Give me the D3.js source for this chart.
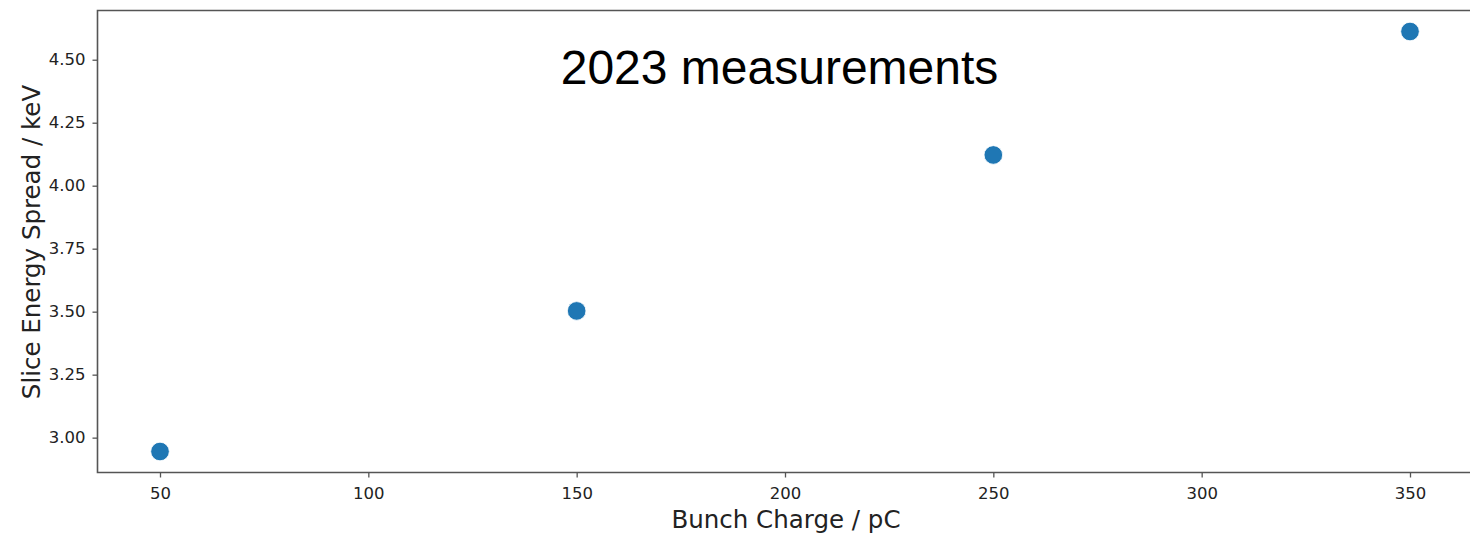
<!DOCTYPE html>
<html>
<head>
<meta charset="utf-8">
<script src="https://cdn.jsdelivr.net/npm/d3@7"></script>
<style>
  html, body { margin: 0; padding: 0; background: #fff; }
  svg { display: block; }
</style>
</head>
<body>
<svg id="chart" width="1470" height="534"></svg>
<script>
// Bunch charge (pC) and measured slice energy spread (keV)
const charges = [50, 150, 250, 350];
const spreads = [2.945, 3.503, 4.122, 4.612];
const xTicks = [50, 100, 150, 200, 250, 300, 350];
const yTicks = [3.00, 3.25, 3.50, 3.75, 4.00, 4.25, 4.50];
const titleText = "2023 measurements";
const xLabel = "Bunch Charge / pC";
const yLabel = "Slice Energy Spread / keV";

const svg = d3.select("#chart");
const plotLeft = 97.5, plotTop = 10.5, plotRight = 1472.5, plotBottom = 472.5;

// 5% padding around the data range on both axes
const xPad = (d3.max(charges) - d3.min(charges)) * 0.05;
const yPad = (d3.max(spreads) - d3.min(spreads)) * 0.05;
const x = d3.scaleLinear()
  .domain([d3.min(charges) - xPad, d3.max(charges) + xPad])
  .range([plotLeft, plotRight]);
const y = d3.scaleLinear()
  .domain([d3.min(spreads) - yPad, d3.max(spreads) + yPad])
  .range([plotBottom, plotTop]);

const axisColor = "#555";
const tickFont = "DejaVu Sans, sans-serif";

// x axis
const gx = svg.append("g")
  .attr("transform", `translate(0,${plotBottom})`)
  .call(d3.axisBottom(x).tickValues(xTicks).tickFormat(d3.format("d")).tickSize(5).tickPadding(9.5));
// y axis
const gy = svg.append("g")
  .attr("transform", `translate(${plotLeft},0)`)
  .call(d3.axisLeft(y).tickValues(yTicks).tickFormat(d3.format(".2f")).tickSize(5).tickPadding(7));

[gx, gy].forEach(g => {
  g.select(".domain").remove();
  g.selectAll(".tick line").attr("stroke", axisColor).attr("stroke-width", 1.3);
  g.selectAll(".tick text")
    .attr("fill", "#222")
    .style("font-family", tickFont)
    .style("font-size", "16.5px");
});

// spines: left, bottom, top
svg.append("path")
  .attr("d", `M${plotRight},${plotTop}H${plotLeft}V${plotBottom}H${plotRight}`)
  .attr("fill", "none")
  .attr("stroke", axisColor)
  .attr("stroke-width", 1.6);

// points
svg.append("g")
  .selectAll("circle")
  .data(charges)
  .join("circle")
  .attr("cx", d => x(d))
  .attr("cy", (d, i) => y(spreads[i]))
  .attr("r", 9.3)
  .attr("fill", "#1f77b4")
  .attr("stroke", "#fff")
  .attr("stroke-width", 0.8);

// title inside the plot area
svg.append("text")
  .attr("x", 779.5)
  .attr("y", 84)
  .attr("text-anchor", "middle")
  .style("font-family", "Liberation Sans, Arial, sans-serif")
  .style("font-size", "48px")
  .attr("fill", "#000")
  .text(titleText);

// axis labels
svg.append("text")
  .attr("x", 786)
  .attr("y", 528)
  .attr("text-anchor", "middle")
  .style("font-family", tickFont)
  .style("font-size", "24.5px")
  .attr("fill", "#222")
  .text(xLabel);

svg.append("text")
  .attr("transform", "translate(40,242) rotate(-90)")
  .attr("text-anchor", "middle")
  .style("font-family", tickFont)
  .style("font-size", "24.5px")
  .attr("fill", "#222")
  .text(yLabel);
</script>
</body>
</html>
